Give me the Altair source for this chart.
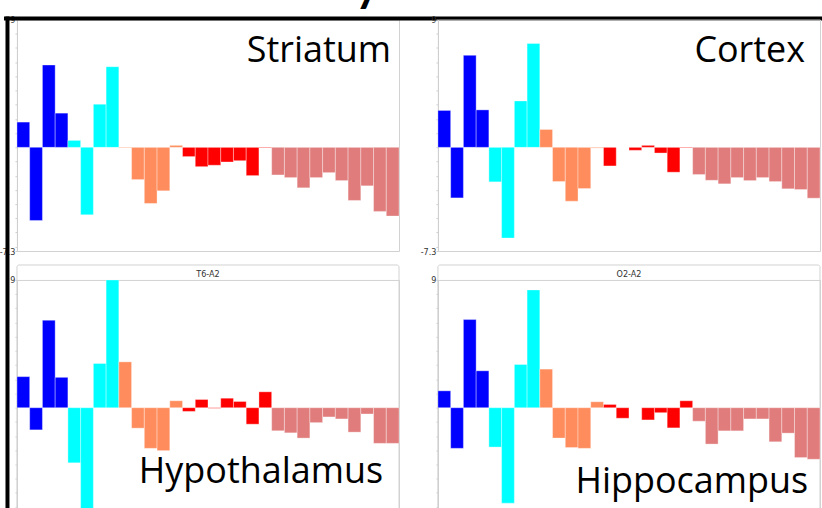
import altair as alt
import pandas as pd

# ---- data -------------------------------------------------------------
bar_index = list(range(1, 31))
bands = ["delta"] * 4 + ["theta"] * 4 + ["alpha"] * 5 + ["beta"] * 7 + ["gamma"] * 10
band_names = ["delta", "theta", "alpha", "beta", "gamma"]
band_colors = ["#0000FF", "#00FFFF", "#FF8C5C", "#FF0000", "#E07C7C"]

striatum = [1.78, -5.15, 5.80, 2.41, 0.49, -4.75, 3.04, 5.68, -0.04, -2.27,
            -3.95, -3.06, 0.14, -0.65, -1.36, -1.26, -1.03, -0.94, -1.99, -0.04,
            -1.94, -2.13, -2.85, -2.13, -1.78, -2.34, -3.74, -2.71, -4.51, -4.84]
cortex = [2.60, -3.56, 6.48, 2.64, -2.43, -6.39, 3.27, 7.32, 1.26, -2.41,
          -3.79, -2.90, -0.05, -1.31, 0.0, -0.21, 0.14, -0.40, -1.75, -0.04,
          -1.92, -2.32, -2.57, -2.13, -2.34, -2.13, -2.41, -2.92, -2.97, -3.58]
hypothalamus = [2.19, -1.56, 6.16, 2.14, -3.88, -7.25, 3.12, 9.0, 3.23, -1.44,
                -2.86, -3.02, 0.49, -0.26, 0.58, -0.04, 0.67, 0.44, -1.16, 1.12,
                -1.63, -1.77, -2.14, -1.05, -0.65, -0.79, -1.72, -0.44, -2.51, -2.51]
hippocampus = [1.19, -2.86, 6.21, 2.60, -2.77, -6.72, 3.05, 8.30, 2.72, -2.14,
               -2.81, -2.86, 0.42, 0.23, -0.74, 0.0, -0.86, -0.35, -1.42, 0.49,
               -0.95, -2.56, -1.63, -1.63, -0.79, -0.79, -2.40, -1.79, -3.51, -3.63]

region_names = ["Striatum", "Cortex", "Hypothalamus", "Hippocampus"]
channel_titles = ["", "", "T6-A2", "O2-A2"]
y_min, y_max = -7.3, 9
title_tail = "y"

W, H = 383, 232
FRAME = "#d2d2d2"
LABEL_FONT = "Open Sans"
SMALL_FONT = "Liberation Sans Narrow, DejaVu Sans Condensed, sans-serif"

one = pd.DataFrame({"a": [0]})


def box(x1, x2, y1, y2, color):
    return alt.Chart(one).mark_rect(color=color, strokeWidth=0).encode(
        x=alt.value(x1), x2=alt.value(x2), y=alt.value(y1), y2=alt.value(y2))


def panel(values, region, ch_title, lab_x, lab_y, lower, first=False):
    df = pd.DataFrame({"idx": bar_index, "value": values, "band": bands})
    tick_vals = [y_min] + list(range(-7, 10))
    if lower:
        expr = "datum.value == 9 ? '9' : ''"
    else:
        expr = "datum.value == 9 ? '9' : (datum.value == -7.3 ? '-7.3' : '')"
    yaxis = alt.Axis(
        values=tick_vals, labelExpr=expr,
        title=None, grid=False, domainColor="#cfcfcf", tickColor="#d0d0d0",
        tickSize=2, labelFontSize=9, labelColor="#333333", labelPadding=0,
        labelFont=SMALL_FONT, labelOverlap=False,
    )
    bars = alt.Chart(df).mark_bar(
        stroke="#ffffff", strokeWidth=1, strokeOpacity=0.35
    ).encode(
        x=alt.X("idx:O", axis=None, scale=alt.Scale(paddingInner=0, paddingOuter=0)),
        y=alt.Y("value:Q", axis=yaxis,
                scale=alt.Scale(domain=[y_min, y_max], nice=False, zero=False)),
        y2=alt.datum(0),
        color=alt.Color("band:N", legend=None,
                        scale=alt.Scale(domain=band_names, range=band_colors)),
    )
    layers = []
    if lower:
        frame = alt.Chart(one).mark_rect(
            fillOpacity=0, stroke=FRAME, strokeWidth=1, cornerRadius=2
        ).encode(x=alt.value(0), x2=alt.value(W), y=alt.value(-15), y2=alt.value(H))
        layers.append(frame)
    layers.append(bars)
    if ch_title:
        t = alt.Chart(one).mark_text(
            text=ch_title, fontSize=9, color="#333333", font=SMALL_FONT,
            baseline="middle", align="center"
        ).encode(x=alt.value(W / 2), y=alt.value(-6))
        layers.append(t)
    lab = alt.Chart(one).mark_text(
        text=region, fontSize=36, font=LABEL_FONT, color="#000000",
        align="right", baseline="alphabetic"
    ).encode(x=alt.value(lab_x), y=alt.value(lab_y))
    layers.append(lab)
    if first:
        anchor = box(-26, -25, -78, -77, "#ffffff")
        tail = alt.Chart(one).mark_text(
            text=title_tail, fontSize=46, font="Lato", fontWeight="bold",
            color="#000000", align="center", baseline="alphabetic"
        ).encode(x=alt.value(351), y=alt.value(-19))
        top_line = box(-13, 814, -3, 1, "#000000")
        left_line = box(-11.5, -7.5, -3, 512, "#000000")
        layers += [anchor, tail, top_line, left_line]
    return alt.layer(*layers).properties(width=W, height=H)


p1 = panel(striatum, region_names[0], channel_titles[0], 375, 43, False, first=True)
p2 = panel(cortex, region_names[1], channel_titles[1], 368, 42.5, False)
p3 = panel(hypothalamus, region_names[2], channel_titles[2], 367, 204, True)
p4 = panel(hippocampus, region_names[3], channel_titles[3], 371, 214, True)

chart = alt.concat(
    p1, p2, p3, p4, columns=2, spacing={"row": 29, "column": 39}, bounds="flush"
).properties(
    padding={"left": -10, "top": -60, "right": -8, "bottom": -22},
    autosize=alt.AutoSizeParams(type="pad"),
).configure_view(stroke=FRAME, strokeWidth=1)

chart.save("out.html", embed_options={"renderer": "svg", "actions": False})
